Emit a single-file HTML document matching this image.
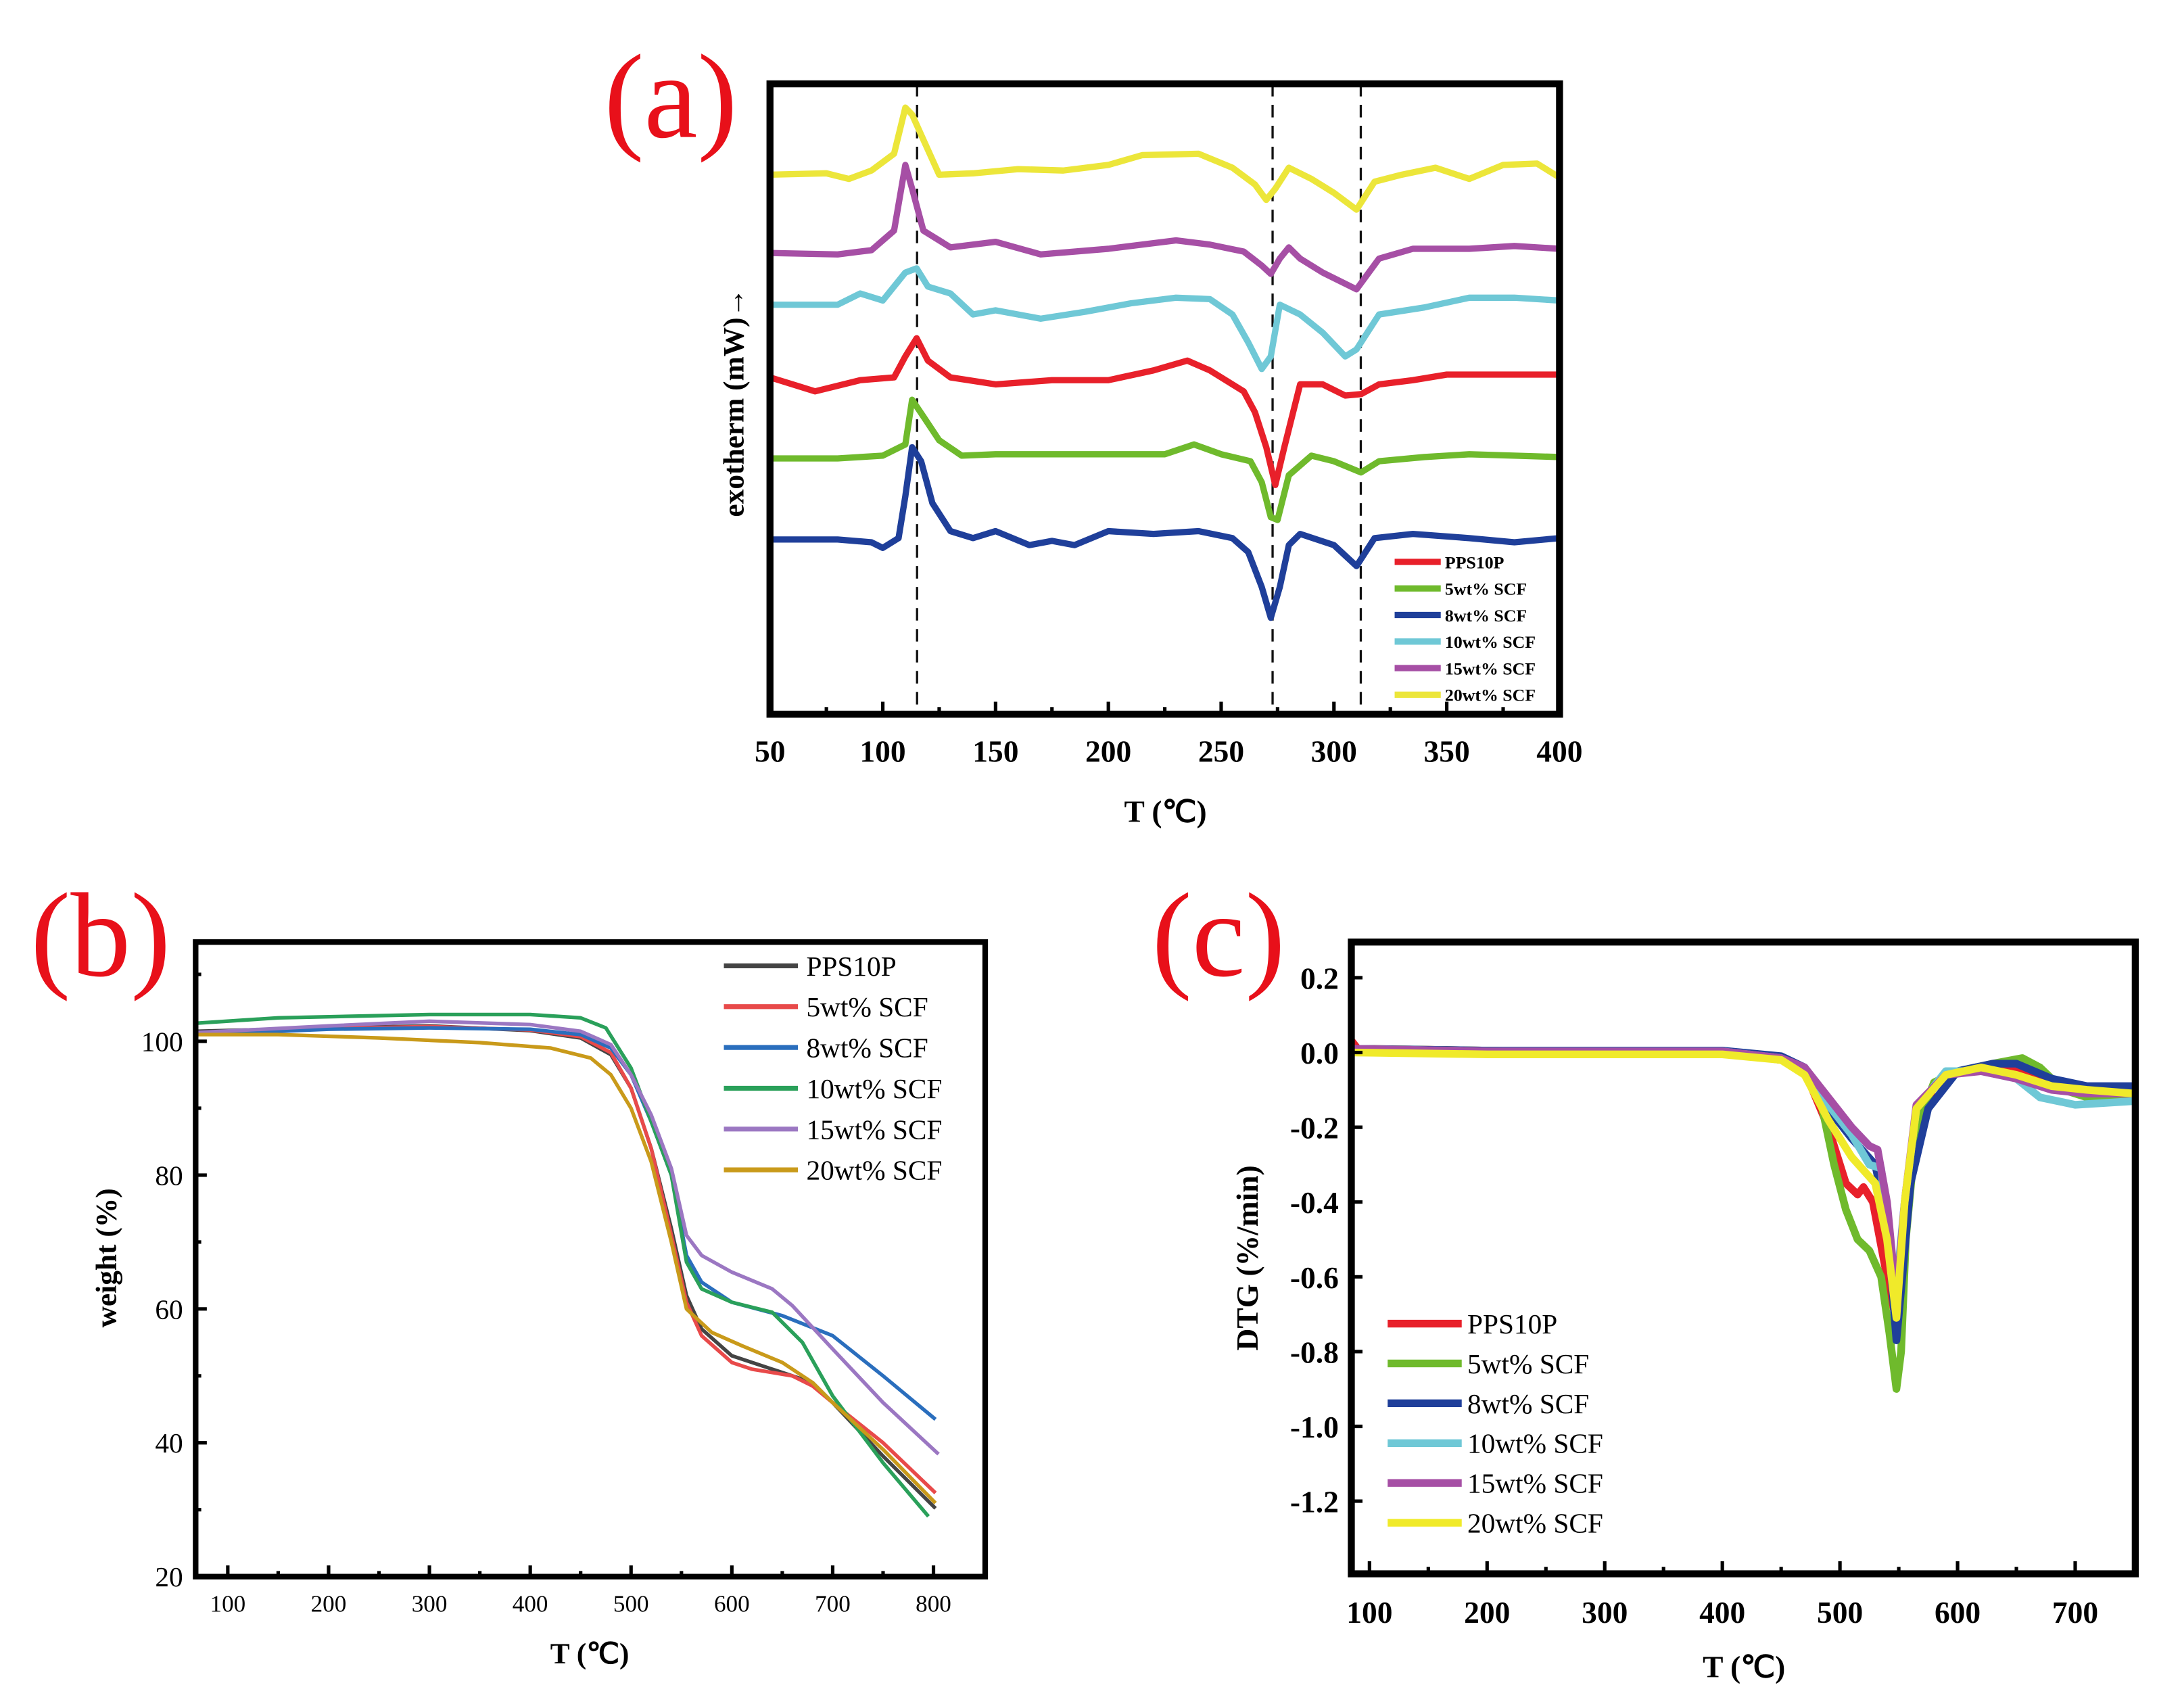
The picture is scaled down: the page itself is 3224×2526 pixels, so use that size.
<!DOCTYPE html>
<html><head><meta charset="utf-8"><style>
html,body{margin:0;padding:0;background:#fff;}
svg{display:block;}
text{font-family:"Liberation Serif",serif;}
</style></head><body>
<svg id="fig" width="3224" height="2526" viewBox="0 0 1560 1222" preserveAspectRatio="none" xmlns="http://www.w3.org/2000/svg">
<rect width="1560" height="1222" fill="#fff"/>
<g id="pa"></g>
<g id="pb"></g>
<g id="pc"></g>
</svg>
<script>
// ---------- Panel (a) DSC data (arbitrary signal units, larger = lower on plot) ----------
const dscT_yellow=[50,75,85,95,105,110,113,118,125,140,160,180,200,215,240,255,265,270,274,280,290,300,310,318,330,345,360,375,390,400];
const dscV_yellow=[125,124,128,122,110,77,82,100,125,124,121,122,118,111,110,120,132,143,135,120,128,138,150,130,125,120,128,118,117,127];
const dscT_purple=[50,80,95,105,110,113,118,130,150,170,200,230,245,260,268,272,276,280,285,295,310,320,335,360,380,400];
const dscV_purple=[181,182,179,165,118,135,165,177,173,182,178,172,175,180,190,196,185,177,185,195,207,185,178,178,176,178];
const dscT_cyan=[50,80,90,100,110,115,120,130,140,150,170,190,210,230,245,255,262,268,272,276,285,295,305,310,320,340,360,380,400];
const dscV_cyan=[218,218,210,215,195,192,205,210,225,222,228,223,217,213,214,225,245,264,255,218,225,238,255,250,225,220,213,213,215];
const dscT_red=[50,60,70,90,105,110,115,120,130,150,175,200,220,235,245,260,265,270,274,278,285,295,305,312,320,335,350,370,400];
const dscV_red=[270,275,280,272,270,255,242,258,270,275,272,272,265,258,265,280,295,320,347,320,275,275,283,282,275,272,268,268,268];
const dscT_green=[50,80,100,110,113,118,125,135,150,175,200,225,238,250,263,268,272,275,280,290,300,312,320,340,360,380,400];
const dscV_green=[328,328,326,318,286,298,315,326,325,325,325,325,318,325,330,345,370,372,340,326,330,338,330,327,325,326,327];
const dscT_blue=[50,80,95,100,107,110,113,117,122,130,140,150,165,175,185,200,220,240,255,262,268,272,276,280,285,300,310,312,318,335,360,380,400];
const dscV_blue=[386,386,388,392,385,355,320,330,360,380,385,380,390,387,390,380,382,380,385,395,420,442,420,390,382,390,405,400,385,382,385,388,385];
const dscDashT=[115.2,272.8,311.9];
const dscTicks=[50,100,150,200,250,300,350,400];

// ---------- Panel (b) TGA data ----------
const tgaT_pps=[68,200,300,400,450,480,500,520,540,555,570,600,650,680,700,750,802];
const tgaW_pps=[101.5,102,102.3,101.6,100.5,98,93,84,72,62,57,53,50.5,49,46,38,30.2];
const tgaT_5=[68,200,300,400,450,480,500,520,540,555,570,600,620,660,680,700,750,802];
const tgaW_5=[101.3,101.9,102.2,101.7,100.7,98.3,93,84,71,61,56,52,51,50,48.5,46,40,32.5];
const tgaT_8=[68,200,300,400,450,480,500,520,540,555,570,600,650,700,750,802];
const tgaW_8=[101,101.8,102,101.8,101,99,95,88,80,68,64,61,59,56,50,43.5];
const tgaT_10=[68,150,300,400,450,475,500,520,540,555,570,600,640,670,700,750,795];
const tgaW_10=[102.7,103.5,104,104,103.5,102,96,88,80,67,63,61,59.5,55,47,37,29];
const tgaT_15=[68,200,300,400,450,480,500,520,540,555,570,600,640,660,700,750,805];
const tgaW_15=[101.3,102.3,103,102.5,101.5,99.5,95,89,81,71,68,65.5,63,60.5,54,46,38.3];
const tgaT_20=[68,150,250,350,420,460,480,500,520,540,555,580,610,650,680,700,750,802];
const tgaW_20=[101,101,100.5,99.8,99,97.5,95,90,82,70,60,56.5,54.5,52,49,46,39,31];
const tgaXTicks=[100,200,300,400,500,600,700,800];
const tgaYTicks=[20,40,60,80,100];

// ---------- Panel (c) DTG data ----------
const dtgT_red=[85,90,200,300,400,450,470,490,505,515,520,528,540,548,555,565,580,600,620,650,680,710,750];
const dtgV_red=[0.03,0.01,0.005,0,0,-0.02,-0.05,-0.2,-0.35,-0.38,-0.36,-0.4,-0.6,-0.72,-0.5,-0.2,-0.09,-0.05,-0.04,-0.05,-0.08,-0.12,-0.1];
const dtgT_green=[85,200,300,400,450,470,485,495,505,515,525,535,542,548,552,556,565,580,600,630,655,670,690,710,750];
const dtgV_green=[0.01,0.005,0,0,-0.02,-0.05,-0.15,-0.3,-0.42,-0.5,-0.53,-0.6,-0.75,-0.9,-0.8,-0.5,-0.2,-0.08,-0.05,-0.03,-0.015,-0.04,-0.1,-0.12,-0.12];
const dtgT_blue=[85,200,400,450,470,490,510,530,540,548,553,560,575,600,630,650,680,710,750];
const dtgV_blue=[0.01,0.005,0.005,-0.01,-0.04,-0.15,-0.23,-0.3,-0.45,-0.77,-0.6,-0.35,-0.15,-0.05,-0.03,-0.03,-0.07,-0.09,-0.09];
const dtgT_cyan=[85,200,400,450,470,490,510,525,535,542,548,555,565,590,620,650,670,700,750];
const dtgV_cyan=[0.01,0.003,0.003,-0.015,-0.05,-0.14,-0.22,-0.3,-0.31,-0.5,-0.63,-0.4,-0.15,-0.05,-0.05,-0.07,-0.12,-0.14,-0.13];
const dtgT_purple=[85,200,400,450,470,490,510,525,532,540,548,555,565,590,620,650,680,710,750];
const dtgV_purple=[0.01,0.003,0.003,-0.015,-0.04,-0.12,-0.2,-0.25,-0.26,-0.4,-0.66,-0.4,-0.14,-0.06,-0.05,-0.07,-0.1,-0.11,-0.11];
const dtgT_yellow=[85,200,400,450,470,490,510,530,540,548,555,565,590,620,650,680,710,750];
const dtgV_yellow=[0,-0.005,-0.005,-0.02,-0.06,-0.18,-0.28,-0.35,-0.5,-0.71,-0.4,-0.15,-0.06,-0.04,-0.06,-0.09,-0.1,-0.11];
const dtgXTicks=[100,200,300,400,500,600,700];
const dtgYTicks=[0.2,0,-0.2,-0.4,-0.6,-0.8,-1.0,-1.2];

const NS="http://www.w3.org/2000/svg";
function mk(parent,tag,attrs,txt){const e=document.createElementNS(NS,tag);for(const k in attrs)e.setAttribute(k,attrs[k]);if(txt!==undefined)e.textContent=txt;parent.appendChild(e);return e;}
function pathD(xs,ys,fx,fy){return xs.map((x,i)=>(i?'L':'M')+fx(x).toFixed(2)+','+fy(ys[i]).toFixed(2)).join('');}

// ===== Panel A =====
(function(){
const g=document.getElementById('pa');
const X0=551,X1=1116,Y0=60,Y1=511;
const fx=t=>X0+(t-50)/350*(X1-X0);
const fy=v=>v;
const lab=mk(g,'text',{x:480,y:98,'font-size':86,fill:'#e8101a','text-anchor':'middle'},'(a)');

dscDashT.forEach(t=>{const l=mk(g,'line',{x1:fx(t),x2:fx(t),y1:Y0,y2:Y1,stroke:'#111','stroke-width':1.6,'stroke-dasharray':'9,6'});
});
const series=[['20wt% SCF',dscT_yellow,dscV_yellow,'#ece63a'],['15wt% SCF',dscT_purple,dscV_purple,'#a64fa5'],['10wt% SCF',dscT_cyan,dscV_cyan,'#6fc8d6'],['PPS10P',dscT_red,dscV_red,'#e8202a'],['5wt% SCF',dscT_green,dscV_green,'#6fba2c'],['8wt% SCF',dscT_blue,dscV_blue,'#1f3f9a']];
series.forEach(s=>{const p=mk(g,'path',{d:pathD(s[1],s[2],fx,fy),fill:'none',stroke:s[3],'stroke-width':4.5,'stroke-linejoin':'round'});
});
const fr=mk(g,'rect',{x:X0,y:Y0,width:X1-X0,height:Y1-Y0,fill:'none',stroke:'#000','stroke-width':5});

for(let t=50;t<=400;t+=25){const major=t%50===0;mk(g,'line',{x1:fx(t),x2:fx(t),y1:Y1,y2:Y1-(major?9:5),stroke:'#000','stroke-width':2.5});}
dscTicks.forEach(t=>{const e=mk(g,'text',{x:fx(t),y:545,'font-size':22,'font-weight':'bold','text-anchor':'middle'},String(t));
});
const xt=mk(g,'text',{x:834,y:588,'font-size':22,'font-weight':'bold','text-anchor':'middle'},'T (℃)');

const yt=mk(g,'text',{x:0,y:0,'font-size':21,'font-weight':'bold','text-anchor':'middle',transform:'translate(532,288) rotate(-90)'},'exotherm (mW)→');

const leg=[['PPS10P','#e8202a'],['5wt% SCF','#6fba2c'],['8wt% SCF','#1f3f9a'],['10wt% SCF','#6fc8d6'],['15wt% SCF','#a64fa5'],['20wt% SCF','#ece63a']];
leg.forEach((l,i)=>{const y=402+i*19;const gg=mk(g,'g',{});

mk(gg,'line',{x1:998,x2:1031,y1:y,y2:y,stroke:l[1],'stroke-width':4.5});
mk(gg,'text',{x:1034,y:y+4.5,'font-size':12.5,'font-weight':'bold'},l[0]);});
})();

// ===== Panel B =====
(function(){
const g=document.getElementById('pb');
const X0=140,X1=705,Y0=674,Y1=1128;
const fx=t=>163+(t-100)*(505/700);
const fy=w=>1128-(w-20)*(383/80);
const lab=mk(g,'text',{x:72,y:698,'font-size':86,fill:'#e8101a','text-anchor':'middle'},'(b)');

const cp=mk(g,'clipPath',{id:'clipb'});mk(cp,'rect',{x:X0,y:Y0,width:X1-X0,height:Y1-Y0});
const series=[['PPS10P',tgaT_pps,tgaW_pps,'#444444'],['5wt% SCF',tgaT_5,tgaW_5,'#e84a4a'],['8wt% SCF',tgaT_8,tgaW_8,'#2a6ebd'],['10wt% SCF',tgaT_10,tgaW_10,'#2aa05a'],['15wt% SCF',tgaT_15,tgaW_15,'#9b77c2'],['20wt% SCF',tgaT_20,tgaW_20,'#c99a1a']];
series.forEach(s=>{const p=mk(g,'path',{d:pathD(s[1],s[2],fx,fy),fill:'none',stroke:s[3],'stroke-width':2.6,'stroke-linejoin':'round','clip-path':'url(#clipb)'});
});
const fr=mk(g,'rect',{x:X0,y:Y0,width:X1-X0,height:Y1-Y0,fill:'none',stroke:'#000','stroke-width':4});

for(let t=100;t<=800;t+=50){const major=t%100===0;mk(g,'line',{x1:fx(t),x2:fx(t),y1:Y1,y2:Y1-(major?8:4),stroke:'#000','stroke-width':2.5});}
for(let w=30;w<=110;w+=10){mk(g,'line',{x1:X0,x2:X0+(w%20===0?8:4),y1:fy(w),y2:fy(w),stroke:'#000','stroke-width':2.5});}
tgaXTicks.forEach(t=>{const e=mk(g,'text',{x:fx(t),y:1153,'font-size':17,'text-anchor':'middle'},String(t));
});
tgaYTicks.forEach(w=>{const e=mk(g,'text',{x:131,y:fy(w)+7,'font-size':20,'text-anchor':'end'},String(w));
});
const xt=mk(g,'text',{x:422,y:1190,'font-size':21,'font-weight':'bold','text-anchor':'middle'},'T (℃)');

const yt=mk(g,'text',{x:0,y:0,'font-size':21,'font-weight':'bold','text-anchor':'middle',transform:'translate(83,900) rotate(-90)'},'weight (%)');

series.forEach((s,i)=>{const y=691+i*29.2;const gg=mk(g,'g',{});

mk(gg,'line',{x1:518,x2:571,y1:y,y2:y,stroke:s[3],'stroke-width':3.5});
mk(gg,'text',{x:577,y:y+7,'font-size':20},s[0]);});
})();

// ===== Panel C =====
(function(){
const g=document.getElementById('pc');
const X0=967,X1=1528,Y0=674,Y1=1126;
const fx=t=>980+(t-100)*(505/600);
const fy=v=>753-v*267.5;
const lab=mk(g,'text',{x:872,y:698,'font-size':86,fill:'#e8101a','text-anchor':'middle'},'(c)');

const cp=mk(g,'clipPath',{id:'clipc'});mk(cp,'rect',{x:X0,y:Y0,width:X1-X0,height:Y1-Y0});
const series=[['PPS10P',dtgT_red,dtgV_red,'#e8202a'],['5wt% SCF',dtgT_green,dtgV_green,'#6fba2c'],['8wt% SCF',dtgT_blue,dtgV_blue,'#1f3f9a'],['10wt% SCF',dtgT_cyan,dtgV_cyan,'#6fc8d6'],['15wt% SCF',dtgT_purple,dtgV_purple,'#a64fa5'],['20wt% SCF',dtgT_yellow,dtgV_yellow,'#f0ea2a']];
series.forEach(s=>{const p=mk(g,'path',{d:pathD(s[1],s[2],fx,fy),fill:'none',stroke:s[3],'stroke-width':5.5,'stroke-linejoin':'round','clip-path':'url(#clipc)'});
});
const fr=mk(g,'rect',{x:X0,y:Y0,width:X1-X0,height:Y1-Y0,fill:'none',stroke:'#000','stroke-width':5});

for(let t=100;t<=750;t+=50){const major=t%100===0;mk(g,'line',{x1:fx(t),x2:fx(t),y1:Y1,y2:Y1-(major?9:5),stroke:'#000','stroke-width':2.5});}
dtgYTicks.forEach(v=>{mk(g,'line',{x1:X0,x2:X0+8,y1:fy(v),y2:fy(v),stroke:'#000','stroke-width':2.5});});
dtgXTicks.forEach(t=>{const e=mk(g,'text',{x:fx(t),y:1161,'font-size':22,'font-weight':'bold','text-anchor':'middle'},String(t));
});
dtgYTicks.forEach(v=>{const e=mk(g,'text',{x:958,y:fy(v)+8,'font-size':22,'font-weight':'bold','text-anchor':'end'},(v<0?'-':'')+Math.abs(v).toFixed(1));
});
const xt=mk(g,'text',{x:1248,y:1200,'font-size':22,'font-weight':'bold','text-anchor':'middle'},'T (℃)');

const yt=mk(g,'text',{x:0,y:0,'font-size':22,'font-weight':'bold','text-anchor':'middle',transform:'translate(900,900) rotate(-90)'},'DTG (%/min)');

series.forEach((s,i)=>{const y=947+i*28.5;const gg=mk(g,'g',{});

mk(gg,'line',{x1:993,x2:1046,y1:y,y2:y,stroke:s[3],'stroke-width':5.5});
mk(gg,'text',{x:1050,y:y+7,'font-size':20},s[0]);});
})();
</script>
</body></html>
